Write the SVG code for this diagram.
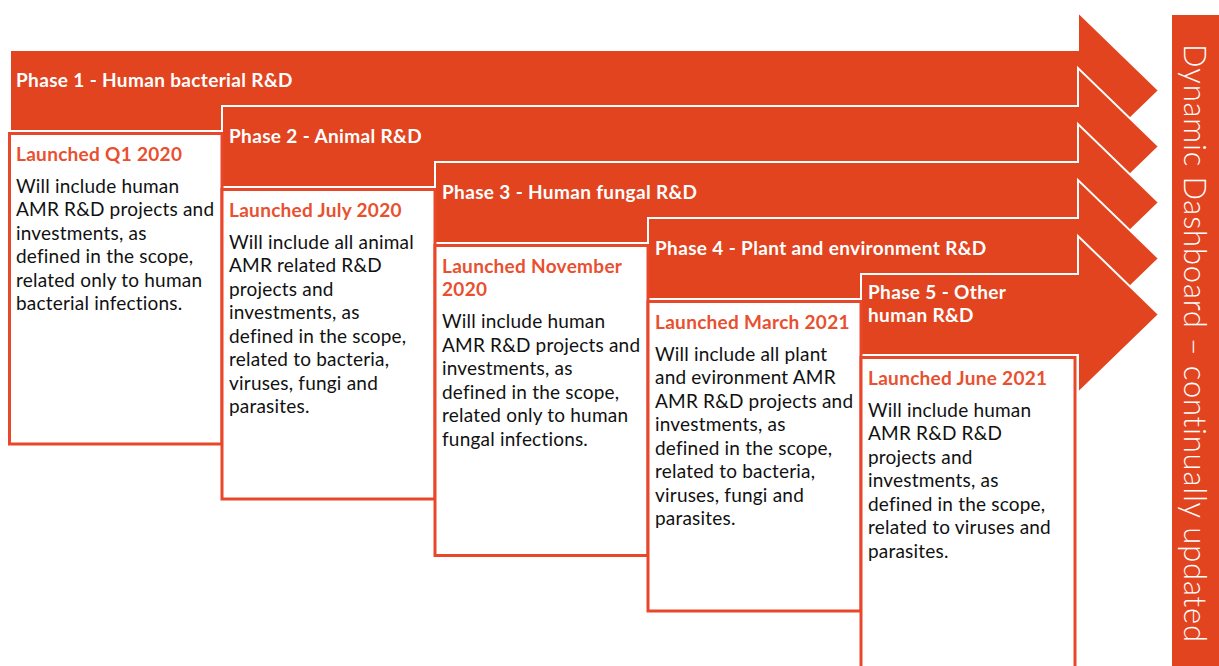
<svg xmlns="http://www.w3.org/2000/svg" width="1219" height="666" viewBox="0 0 1219 666">
<style>
.arrow{fill:#E2441F;stroke:#FFFFFF;stroke-width:2}
.box{fill:#FFFFFF;stroke:#E8472A;stroke-width:3}
.hd{font-family:Lato,"Liberation Sans",sans-serif;font-weight:bold;font-size:19px;letter-spacing:0.35px;fill:#FFFFFF}
.ln{font-family:Lato,"Liberation Sans",sans-serif;font-weight:bold;font-size:19px;letter-spacing:0.3px;fill:#E8502F}
.bd{font-family:Lato,"Liberation Sans",sans-serif;font-size:19px;letter-spacing:0.2px;fill:#111111}
.vt{font-family:Lato,"Liberation Sans",sans-serif;font-weight:300;font-size:31px;letter-spacing:0.8px;fill:#FFFFFF}
</style>
<rect x="0" y="0" width="1219" height="666" fill="#FFFFFF"/>
<g id="arrows">
<polygon class="arrow" points="10,50 1078,50 1078,12 1159,90.5 1078,169 1078,131 10,131"/>
<polygon class="arrow" points="222,106 1078,106 1078,68 1159,146.5 1078,225 1078,187 222,187"/>
<polygon class="arrow" points="435,162 1078,162 1078,124 1159,202.5 1078,281 1078,243 435,243"/>
<polygon class="arrow" points="648,218 1078,218 1078,180 1159,258.5 1078,337 1078,299 648,299"/>
<polygon class="arrow" points="861,274 1078,274 1078,236 1159,314.5 1078,393 1078,355 861,355"/>
</g>
<g id="phase1">
<text class="hd" x="16" y="86.5">Phase 1 - Human bacterial R&amp;D</text>
<rect class="box" x="9.5" y="133.5" width="212.5" height="310.5"/>
<text class="ln" x="16" y="160.5">Launched Q1 2020</text>
<text class="bd" x="16" y="192.5">Will include human</text>
<text class="bd" x="16" y="216">AMR R&amp;D projects and</text>
<text class="bd" x="16" y="239.5">investments, as</text>
<text class="bd" x="16" y="263">defined in the scope,</text>
<text class="bd" x="16" y="286.5">related only to human</text>
<text class="bd" x="16" y="310">bacterial infections.</text>
</g>
<g id="phase2">
<text class="hd" x="229" y="142.5">Phase 2 - Animal R&amp;D</text>
<rect class="box" x="222" y="189.5" width="213" height="309.5"/>
<text class="ln" x="229" y="216.5">Launched July 2020</text>
<text class="bd" x="229" y="248.5">Will include all animal</text>
<text class="bd" x="229" y="272">AMR related R&amp;D</text>
<text class="bd" x="229" y="295.5">projects and</text>
<text class="bd" x="229" y="319">investments, as</text>
<text class="bd" x="229" y="342.5">defined in the scope,</text>
<text class="bd" x="229" y="366">related to bacteria,</text>
<text class="bd" x="229" y="389.5">viruses, fungi and</text>
<text class="bd" x="229" y="413">parasites.</text>
</g>
<g id="phase3">
<text class="hd" x="442" y="198.5">Phase 3 - Human fungal R&amp;D</text>
<rect class="box" x="435" y="245.5" width="213" height="310"/>
<text class="ln" x="442" y="272.5">Launched November</text>
<text class="ln" x="442" y="296">2020</text>
<text class="bd" x="442" y="328">Will include human</text>
<text class="bd" x="442" y="351.5">AMR R&amp;D projects and</text>
<text class="bd" x="442" y="375">investments, as</text>
<text class="bd" x="442" y="398.5">defined in the scope,</text>
<text class="bd" x="442" y="422">related only to human</text>
<text class="bd" x="442" y="445.5">fungal infections.</text>
</g>
<g id="phase4">
<text class="hd" x="655" y="254.5">Phase 4 - Plant and environment R&amp;D</text>
<rect class="box" x="648" y="301.5" width="213" height="309.5"/>
<text class="ln" x="655" y="328.5">Launched March 2021</text>
<text class="bd" x="655" y="360.5">Will include all plant</text>
<text class="bd" x="655" y="384">and evironment AMR</text>
<text class="bd" x="655" y="407.5">AMR R&amp;D projects and</text>
<text class="bd" x="655" y="431">investments, as</text>
<text class="bd" x="655" y="454.5">defined in the scope,</text>
<text class="bd" x="655" y="478">related to bacteria,</text>
<text class="bd" x="655" y="501.5">viruses, fungi and</text>
<text class="bd" x="655" y="525">parasites.</text>
</g>
<g id="phase5">
<text class="hd" x="868" y="299">Phase 5 - Other</text>
<text class="hd" x="868" y="322">human R&amp;D</text>
<rect class="box" x="861" y="357.5" width="214" height="312"/>
<text class="ln" x="868" y="384.5">Launched June 2021</text>
<text class="bd" x="868" y="416.5">Will include human</text>
<text class="bd" x="868" y="440">AMR R&amp;D R&amp;D</text>
<text class="bd" x="868" y="463.5">projects and</text>
<text class="bd" x="868" y="487">investments, as</text>
<text class="bd" x="868" y="510.5">defined in the scope,</text>
<text class="bd" x="868" y="534">related to viruses and</text>
<text class="bd" x="868" y="557.5">parasites.</text>
</g>
<g id="dashboard">
<rect x="1172" y="15" width="47" height="651" fill="#E2441F"/>
<text class="vt" transform="translate(1184,44) rotate(90)">Dynamic Dashboard – continually updated</text>
</g>
</svg>
